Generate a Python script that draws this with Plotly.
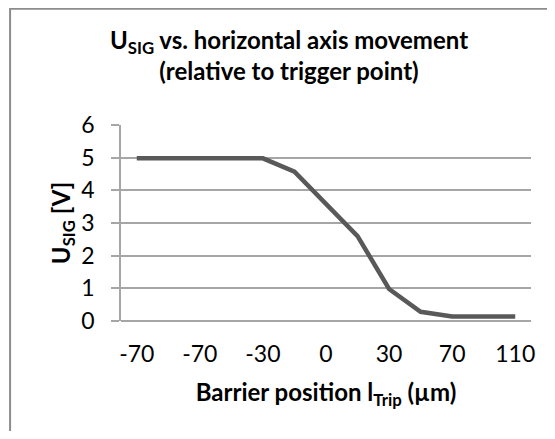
import plotly.graph_objects as go

# Data
positions = list(range(13))
u_sig = [4.98, 4.98, 4.97, 4.98, 4.98, 4.57, 3.6, 2.6, 0.98, 0.28, 0.14, 0.14, 0.14]
tick_positions = [0, 2, 4, 6, 8, 10, 12]
tick_labels = ["-70", "-70", "-30", "0", "30", "70", "110"]

FONT = "Lato"
OFF = 8  # page body margin
W, H = 555 - 2 * OFF, 439 - 2 * OFF
# plot area in screen coords: x 121..535, y 125..321
L = 121 - OFF
T = 125 - OFF
R = W - (535 - OFF)
B = H - (321 - OFF)

fig = go.Figure()
fig.add_trace(go.Scatter(
    x=positions, y=u_sig, mode="lines",
    line=dict(color="#595959", width=4.5),
    hoverinfo="skip", showlegend=False,
))

pw = W - L - R
ph = H - T - B
fig.add_shape(type="rect", xref="paper", yref="paper",
              x0=(9 - 121) / pw, x1=2.0, y0=-2.0, y1=(313 - 0.8) / ph,
              line=dict(color="#8c8c8c", width=2), fillcolor="rgba(0,0,0,0)", layer="below")

fig.update_layout(
    width=W, height=H,
    margin=dict(l=L, r=R, t=T, b=B),
    paper_bgcolor="white", plot_bgcolor="white",
    font=dict(family=FONT, color="black"),
    title=dict(
        text="<b>U<sub>SIG</sub> vs. horizontal axis movement<br>(relative to trigger point)</b>",
        x=(289 - OFF) / W, xanchor="center", xref="container",
        y=1 - 41 / H, yanchor="top", yref="container",
        font=dict(family=FONT, size=24, color="black"),
    ),
    xaxis=dict(
        range=[-0.5, 12.5], tickmode="array", tickvals=tick_positions, ticktext=tick_labels,
        showgrid=False, zeroline=False, showline=False, ticks="",
        tickfont=dict(family=FONT, size=23, color="black"),
        ticklabelstandoff=17,
        title=dict(text="<b>Barrier position l<sub>Trip</sub> (µm)</b>",
                   font=dict(family=FONT, size=24, color="black"), standoff=18),
    ),
    yaxis=dict(
        range=[0, 6], dtick=1, tick0=0,
        showgrid=True, gridcolor="#a6a6a6", gridwidth=1.5,
        zeroline=True, zerolinecolor="#a6a6a6", zerolinewidth=1.5,
        showline=True, linecolor="#a6a6a6", linewidth=1.5,
        ticks="outside", ticklen=8, tickcolor="#a6a6a6", tickwidth=1.5,
        ticklabelstandoff=12,
        tickfont=dict(family=FONT, size=23, color="black"),
        title=dict(text="<b>U<sub>SIG</sub> [V]</b>",
                   font=dict(family=FONT, size=24, color="black"), standoff=4),
    ),
)

fig.write_html("out.html")
